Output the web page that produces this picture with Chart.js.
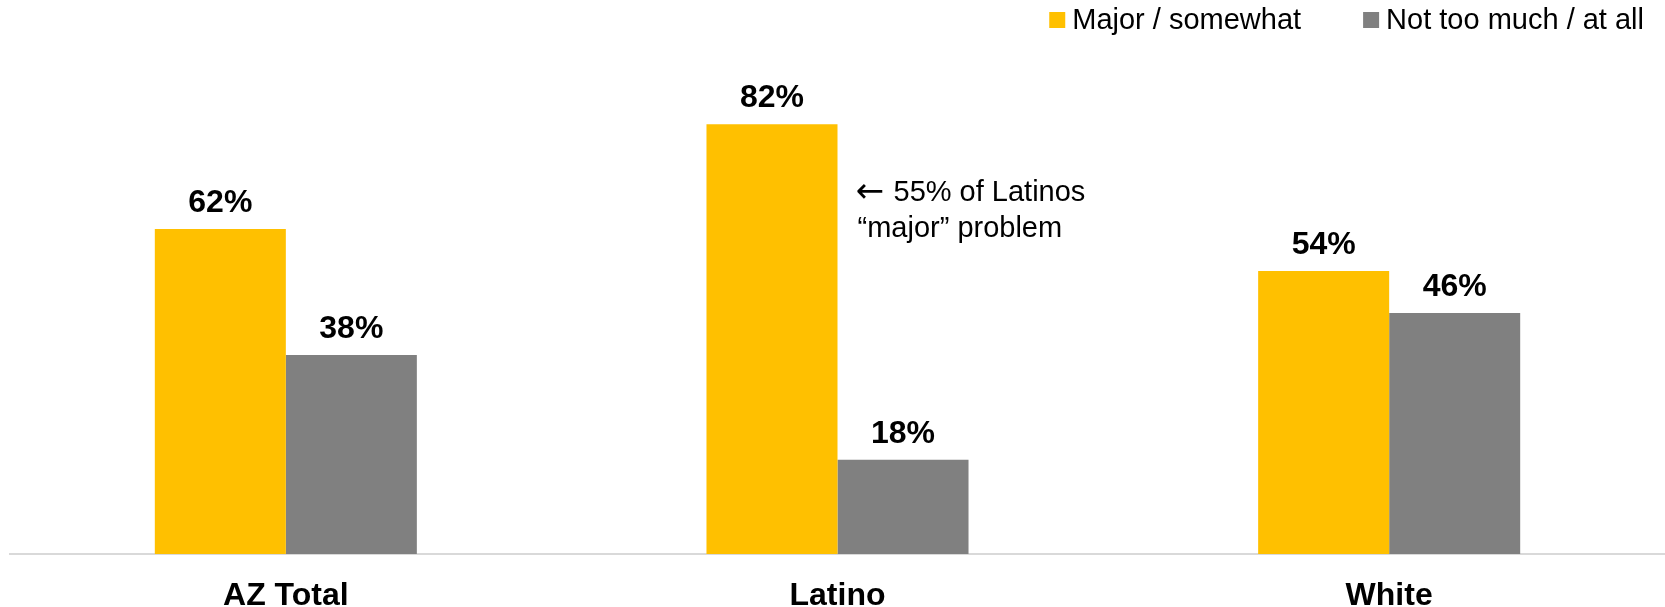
<!DOCTYPE html>
<html>
<head>
<meta charset="utf-8">
<script src="https://cdn.jsdelivr.net/npm/chart.js@4/dist/chart.umd.min.js"></script>
<style>
  html, body { margin: 0; padding: 0; background: #fff; }
  #wrap { width: 1665px; height: 607px; }
</style>
</head>
<body>
<div id="wrap"><canvas id="chart1"></canvas></div>
<script>
const categories = ['AZ Total', 'Latino', 'White']
const seriesNames = ['Major / somewhat', 'Not too much / at all']
const majorSomewhat = [62, 82, 54]
const notTooMuch = [38, 18, 46]
const noteArrow = '\u2190'
const noteLines = ['55% of Latinos', '\u201cmajor\u201d problem']

const FONT = "'Liberation Sans', Arial, sans-serif"
const YELLOW = '#FFC000'
const GRAY = '#808080'

Chart.defaults.font.family = FONT
Chart.defaults.color = '#000'

// value labels above bars + note next to the Latino bar
const barLabels = {
    id: 'barLabels',
    afterDatasetsDraw(chart) {
        const ctx = chart.ctx
        ctx.save()
        ctx.fillStyle = '#000'
        ctx.textAlign = 'center'
        ctx.textBaseline = 'alphabetic'
        ctx.font = 'bold 32px ' + FONT
        chart.data.datasets.forEach((ds, i) => {
            chart.getDatasetMeta(i).data.forEach((bar, j) => {
                ctx.fillText(ds.data[j] + '%', bar.x, bar.y - 17)
            })
        })

        const latino = chart.getDatasetMeta(0).data[1]
        const y = chart.scales.y
        const noteX = latino.x + latino.width / 2 + 20
        const noteY = y.getPixelForValue(67.3)
        ctx.textAlign = 'left'
        ctx.font = '34px "DejaVu Sans", sans-serif'
        ctx.fillText(noteArrow, noteX - 2, noteY + 1)
        ctx.font = '29px ' + FONT
        ctx.fillText(noteLines[0], noteX + 36, noteY)
        ctx.fillText(noteLines[1], noteX, noteY + 36)
        ctx.restore()
    }
}

// legend in the top right corner
const cornerLegend = {
    id: 'cornerLegend',
    afterDraw(chart) {
        const ctx = chart.ctx
        ctx.save()
        ctx.font = '29px ' + FONT
        ctx.textAlign = 'left'
        ctx.textBaseline = 'alphabetic'
        const box = 16, gap = 7, between = 62
        let x = 1644
        const items = chart.data.datasets.map(ds => ({ text: ds.label, color: ds.backgroundColor }))
        for (let k = items.length - 1; k >= 0; k--) {
            const w = ctx.measureText(items[k].text).width
            x -= w
            ctx.fillStyle = '#000'
            ctx.fillText(items[k].text, x, 29)
            x -= gap + box
            ctx.fillStyle = items[k].color
            ctx.fillRect(x, 12, box, box)
            x -= between
        }
        ctx.restore()
    }
}

const data = {
    labels: categories,
    datasets: [
        {
            label: seriesNames[0],
            data: majorSomewhat,
            backgroundColor: YELLOW
        },
        {
            label: seriesNames[1],
            data: notTooMuch,
            backgroundColor: GRAY
        }
    ]
}

const options = {
    responsive: true,
    maintainAspectRatio: false,
    animation: false,
    layout: {
        padding: { top: 30, left: 10, right: 0, bottom: 0 }
    },
    datasets: {
        bar: {
            categoryPercentage: 0.475,
            barPercentage: 1
        }
    },
    plugins: {
        legend: { display: false },
        tooltip: { enabled: false }
    },
    scales: {
        x: {
            grid: { display: false, drawTicks: false },
            border: { color: '#d9d9d9', width: 2 },
            ticks: {
                color: '#000',
                padding: 26,
                maxRotation: 0,
                font: { size: 32, weight: 'bold', lineHeight: 1 }
            },
            afterFit(scale) {
                scale.height = 53
            }
        },
        y: {
            display: false,
            min: 0,
            max: 100
        }
    }
}

new Chart('chart1', { type: 'bar', data, options, plugins: [barLabels, cornerLegend] })
</script>
</body>
</html>
